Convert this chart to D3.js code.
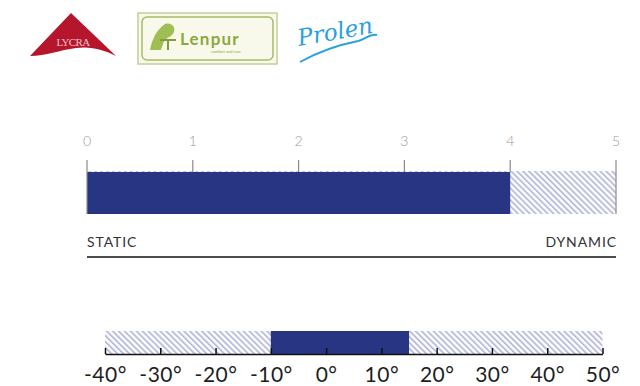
<!DOCTYPE html>
<html><head><meta charset="utf-8">
<script src="https://cdn.jsdelivr.net/npm/d3@7"></script>
<style>html,body{margin:0;padding:0;background:#fff;}svg{display:block;}</style>
</head><body>
<svg id="c" width="640" height="386"></svg>
<script>
// Data
const scaleTicks = [0, 1, 2, 3, 4, 5];
const activityValue = 4;            // bar value on 0-5 scale
const activityLabels = ["STATIC", "DYNAMIC"];
const tempTicks = [-40, -30, -20, -10, 0, 10, 20, 30, 40, 50];
const tempRange = [-10, 15];        // comfort temperature range
const logos = ["LYCRA", "Lenpur", "Prolen"];

const svg = d3.select("#c");
const FONT = "Lato, 'Open Sans', sans-serif";
const navy = "#283583";

const defs = svg.append("defs");
const pat = defs.append("pattern").attr("id","hatch").attr("patternUnits","userSpaceOnUse")
  .attr("width",4.2).attr("height",4.2).attr("patternTransform","rotate(-45)");
pat.append("rect").attr("width",4.2).attr("height",4.2).attr("fill","#fff");
pat.append("rect").attr("x",0).attr("y",0).attr("width",1.9).attr("height",4.2).attr("fill","#b9bedd");

// ---------- Logos ----------
const lg = svg.append("g");
// Lycra
lg.append("path").attr("d","M71,13 L116,56 C104,50 92,46 76,48 C60,50 46,56 30,56 Z").attr("fill","#b5162b");
lg.append("text").attr("x",73).attr("y",46).attr("text-anchor","middle").attr("font-family","'Liberation Serif',serif")
  .attr("font-size",11).attr("fill","#f0c2c8").attr("letter-spacing","-0.6").text(logos[0]);
// Lenpur
lg.append("rect").attr("x",138).attr("y",13).attr("width",139).attr("height",51).attr("fill","#f8f9ea").attr("stroke","#c2d09a").attr("stroke-width",1.5);
lg.append("rect").attr("x",142).attr("y",17).attr("width",131).attr("height",43).attr("rx",5).attr("fill","none").attr("stroke","#a6bb68").attr("stroke-width",1.5);
lg.append("path").attr("d","M150,50 C152,40 156,30 165,24 C172,22 177,28 173,34 C169,38 165,38 163,44 L161,50 Z").attr("fill","#9fbf55");
lg.append("path").attr("d","M160,40 L176,40 M168,40 L168,50").attr("stroke","#7f9e3a").attr("stroke-width",2);
lg.append("text").attr("x",180).attr("y",45).attr("font-family",FONT).attr("font-weight","bold").attr("font-size",17).attr("fill","#8aa93f").attr("letter-spacing","1.2").text(logos[1]);
lg.append("text").attr("x",226).attr("y",53).attr("text-anchor","middle").attr("font-family",FONT).attr("font-size",4).attr("fill","#8aa93f").text("comfort and care");
// Prolen
lg.append("text").attr("x",299).attr("y",46).attr("font-family","'DejaVu Serif',serif").attr("font-style","italic").attr("font-size",23).attr("fill","#2aa1dd").attr("transform","rotate(-10,299,46)").text(logos[2]);
lg.append("path").attr("d","M300,62 C318,52 338,45 358,41 C366,39 370,33 377,35").attr("fill","none").attr("stroke","#2aa1dd").attr("stroke-width",2);

// ---------- Activity scale ----------
const x1 = d3.scaleLinear().domain([0, 5]).range([87, 616]);
const barTop = 172, barBot = 214;
svg.append("rect").attr("x",x1(0)).attr("y",barTop-1).attr("width",x1(5)-x1(0)).attr("height",barBot-barTop+1).attr("fill","url(#hatch)");
svg.append("rect").attr("x",x1(0)).attr("y",barTop).attr("width",x1(activityValue)-x1(0)).attr("height",barBot-barTop).attr("fill",navy);

const g1 = svg.append("g");
g1.selectAll("line.t").data(scaleTicks).join("line")
  .attr("x1",d=>x1(d)).attr("x2",d=>x1(d)).attr("y1",160)
  .attr("y2",d=>(d===0||d===5)?barBot:barTop)
  .attr("stroke","#8a8a8a").attr("stroke-width",1.2);
g1.selectAll("text").data(scaleTicks).join("text")
  .attr("x",d=>x1(d)).attr("y",146).attr("text-anchor","middle")
  .attr("font-family",FONT).attr("font-weight",300).attr("font-size",14).attr("fill","#999").text(d=>d);

svg.append("text").attr("x",x1(0)).attr("y",247).attr("font-family",FONT).attr("font-size",14).attr("fill","#333").attr("letter-spacing","0.9").text(activityLabels[0]);
svg.append("text").attr("x",x1(5)+1).attr("y",247).attr("text-anchor","end").attr("font-family",FONT).attr("font-size",14).attr("fill","#333").attr("letter-spacing","0.9").text(activityLabels[1]);
svg.append("line").attr("x1",x1(0)).attr("x2",x1(5)).attr("y1",257).attr("y2",257).attr("stroke","#111").attr("stroke-width",1.5);

// ---------- Temperature scale ----------
const x2 = d3.scaleLinear().domain([-40, 50]).range([105, 602.5]);
const tTop = 331, tBot = 354;
svg.append("rect").attr("x",x2(-40)).attr("y",tTop).attr("width",x2(50)-x2(-40)).attr("height",tBot-tTop).attr("fill","url(#hatch)");
svg.append("rect").attr("x",x2(tempRange[0])).attr("y",tTop).attr("width",x2(tempRange[1])-x2(tempRange[0])).attr("height",tBot-tTop).attr("fill",navy);

const axis = d3.axisTop(x2).tickValues(tempTicks).tickSizeInner(6).tickSizeOuter(0).tickFormat(d=>d+"°");
const ag = svg.append("g").attr("transform",`translate(0,${tBot})`).call(axis);
ag.select(".domain").attr("stroke","#111").attr("stroke-width",1.5);
ag.selectAll(".tick line").attr("stroke","#111").attr("stroke-width",1.5);
ag.selectAll(".tick text").attr("y",27.5).attr("dy",0).attr("font-family",FONT).attr("font-size",21).attr("fill","#1e1e1e").attr("letter-spacing","0.5");
</script>
</body></html>
